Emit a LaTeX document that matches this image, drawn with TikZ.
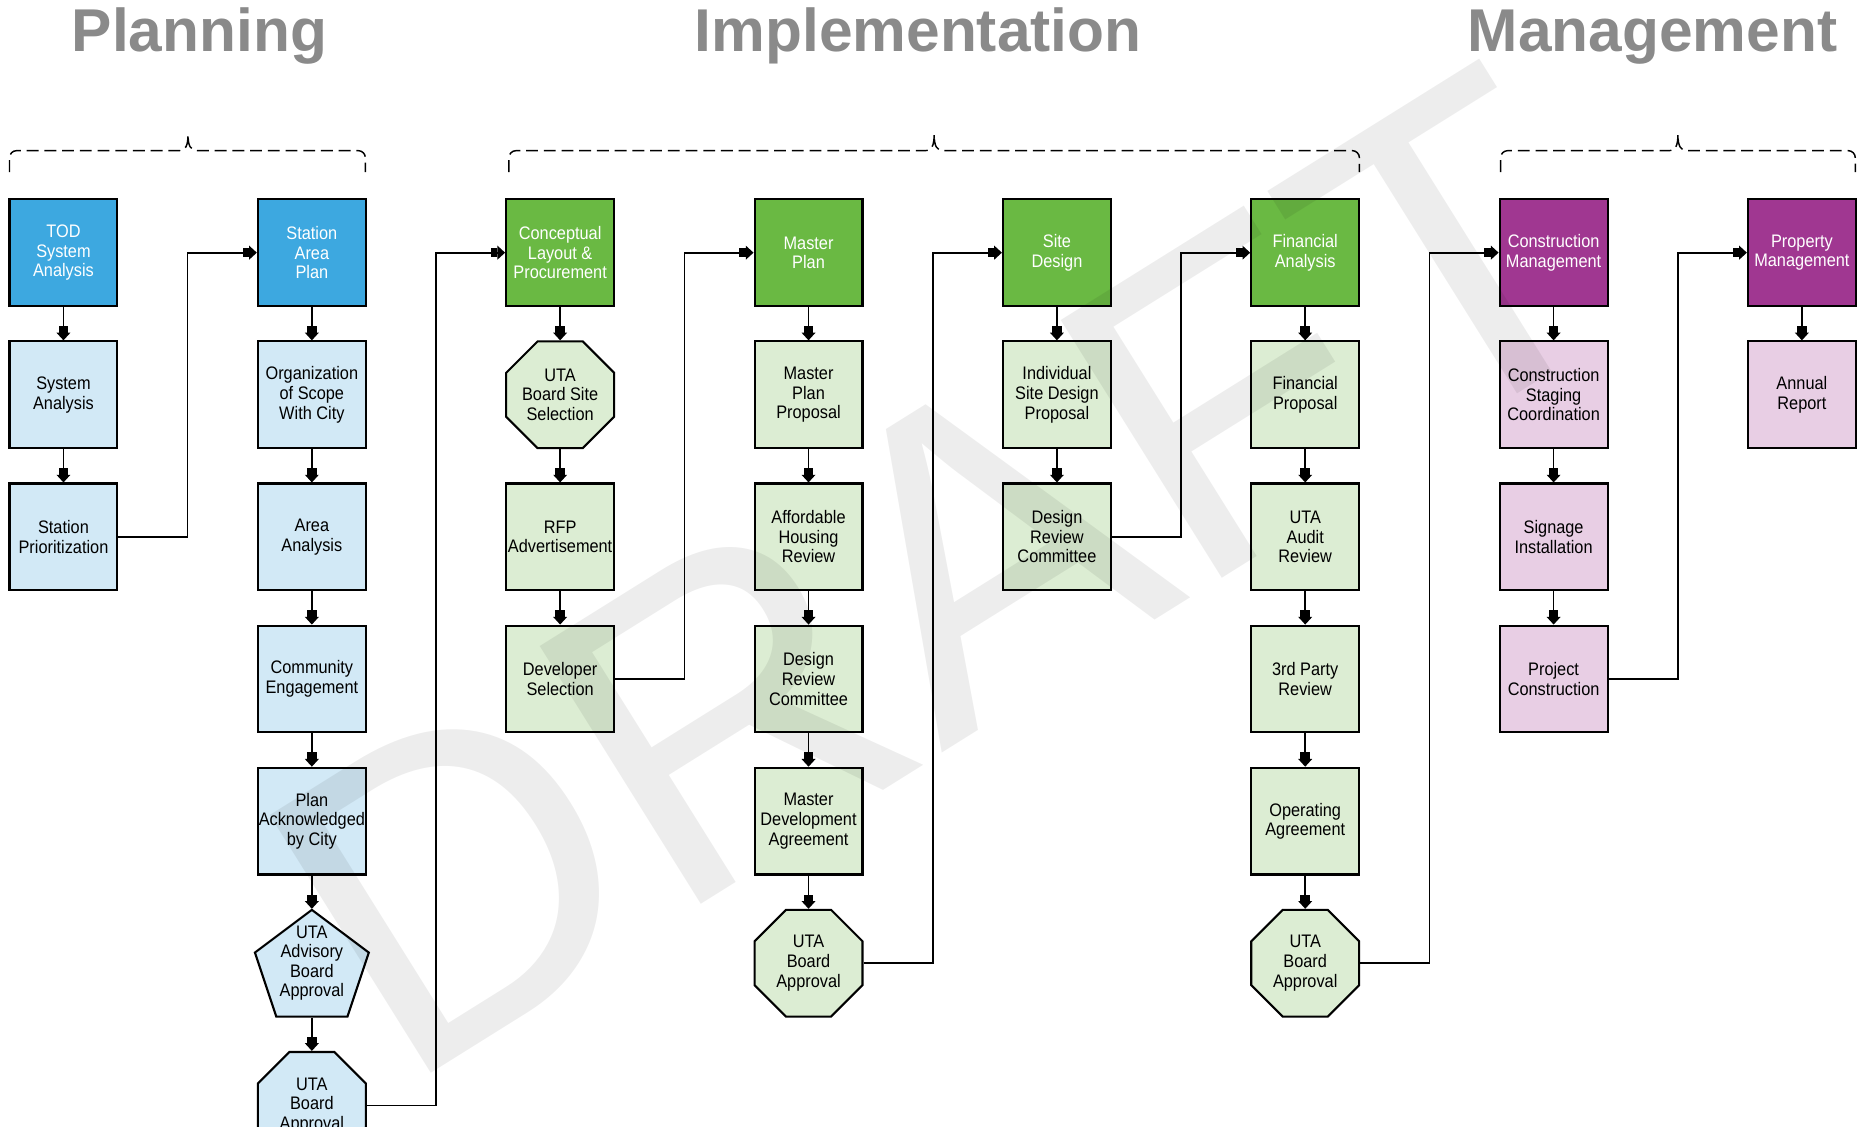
\documentclass[tikz,border=0pt]{standalone}
\usepackage{fontspec}
\setmainfont{Liberation Sans}
\newfontfamily\boxfont[FakeStretch=0.9]{Liberation Sans}
\usetikzlibrary{arrows.meta,calc,backgrounds}
\definecolor{bdark}{RGB}{61,168,224}
\definecolor{blight}{RGB}{210,233,246}
\definecolor{gdark}{RGB}{106,185,67}
\definecolor{glight}{RGB}{220,237,211}
\definecolor{pdark}{RGB}{160,55,145}
\definecolor{plight}{RGB}{232,206,228}
\definecolor{titlegray}{RGB}{138,138,138}
\newcommand\octagonbg[2]{%
  \begin{scope}[on background layer]
  \draw[line width=1pt, line join=miter, fill=#2]
    ($(#1.center)+(-19,45)$) -- ($(#1.center)+(19,45)$) -- ($(#1.center)+(45.5,18.5)$) --
    ($(#1.center)+(45.5,-18.5)$) -- ($(#1.center)+(19,-45)$) -- ($(#1.center)+(-19,-45)$) --
    ($(#1.center)+(-45.5,-18.5)$) -- ($(#1.center)+(-45.5,18.5)$) -- cycle;
  \end{scope}}
\newcommand\pentagonbg[2]{%
  \begin{scope}[on background layer]
  \draw[line width=1pt, line join=miter, fill=#2]
    ($(#1.center)+(0,45)$) -- ($(#1.center)+(48,9)$) -- ($(#1.center)+(30,-45)$) --
    ($(#1.center)+(-30,-45)$) -- ($(#1.center)+(-48,9)$) -- cycle;
  \end{scope}}
\newcommand\dashbrace[3]{%
  \draw[brc] (#1,-145) -- (#1,-133) to[out=90,in=180] (#1+6,-127) -- (#3-8,-127)
    .. controls (#3-2,-127) and (#3,-123) .. (#3,-113)
    .. controls (#3,-123) and (#3+2,-127) .. (#3+8,-127)
    -- (#2-6,-127) to[out=0,in=90] (#2,-133) -- (#2,-145);}
\begin{document}
\begin{tikzpicture}[x=0.02cm,y=0.02cm,
  bx/.style={draw=black, line width=1pt, minimum width=1.82cm, minimum height=1.8cm,
    inner sep=0pt, align=center, font=\boxfont\fontsize{8.7}{9.4}\selectfont},
  bdk/.style={bx, fill=bdark, text=white},
  blt/.style={bx, fill=blight},
  gdk/.style={bx, fill=gdark, text=white},
  glt/.style={bx, fill=glight},
  pdk/.style={bx, fill=pdark, text=white},
  plt/.style={bx, fill=plight},
  shp/.style={bx, draw=none},
  arr/.style={line width=0.8pt, -{Rectangle[length=1.1mm,width=1.6mm,sep=0pt]Triangle[length=1.3mm,width=2.3mm]}},
  brc/.style={line width=0.7pt, dash pattern=on 5.7pt off 2.8pt},
  ttl/.style={font=\bfseries\fontsize{29}{30}\selectfont, text=titlegray, inner sep=0pt, anchor=base}]
\useasboundingbox (0,0) rectangle (1568,-950);

% titles
\node[ttl] (tplan) at (168,-43) {Planning};
\node[ttl] (timpl) at (774,-43) {Implementation};
\node[ttl] (tman) at (1393,-43) {Management};

% braces
\dashbrace{8}{308}{158.5}
\dashbrace{429}{1146}{787.5}
\dashbrace{1265}{1564}{1414.5}

% column 1
\node[bdk] (tod) at (53.5,-213) {TOD\\System\\Analysis};
\node[blt] (sysan) at (53.5,-332.8) {System\\Analysis};
\node[blt] (stprio) at (53.5,-452.6) {Station\\Prioritization};
% column 2
\node[bdk] (sap) at (262.9,-213) {Station\\Area\\Plan};
\node[blt] (org) at (262.9,-332.8) {Organization\\of Scope\\With City};
\node[blt] (area) at (262.9,-452.6) {Area\\Analysis};
\node[blt] (comm) at (262.9,-572.4) {Community\\Engagement};
\node[blt] (plack) at (262.9,-692.2) {Plan\\Acknowledged\\by City};
\node[shp] (advis) at (262.9,-812) {UTA\\Advisory\\Board\\Approval};
\node[shp] (bap1) at (262.9,-931.8) {UTA\\Board\\Approval};
% column 3
\node[gdk] (clp) at (472.2,-213) {Conceptual\\Layout \&\\Procurement};
\node[shp] (bss) at (472.2,-332.8) {UTA\\Board Site\\Selection};
\node[glt] (rfp) at (472.2,-452.6) {RFP\\Advertisement};
\node[glt] (devsel) at (472.2,-572.4) {Developer\\Selection};
% column 4
\node[gdk] (mp) at (681.6,-213) {Master\\Plan};
\node[glt] (mpp) at (681.6,-332.8) {Master\\Plan\\Proposal};
\node[glt] (ahr) at (681.6,-452.6) {Affordable\\Housing\\Review};
\node[glt] (drca) at (681.6,-572.4) {Design\\Review\\Committee};
\node[glt] (mda) at (681.6,-692.2) {Master\\Development\\Agreement};
\node[shp] (bap2) at (681.6,-812) {UTA\\Board\\Approval};
% column 5
\node[gdk] (sd) at (891,-213) {Site\\Design};
\node[glt] (isdp) at (891,-332.8) {Individual\\Site Design\\Proposal};
\node[glt] (drcb) at (891,-452.6) {Design\\Review\\Committee};
% column 6
\node[gdk] (fa) at (1100.3,-213) {Financial\\Analysis};
\node[glt] (fp) at (1100.3,-332.8) {Financial\\Proposal};
\node[glt] (audit) at (1100.3,-452.6) {UTA\\Audit\\Review};
\node[glt] (third) at (1100.3,-572.4) {3rd Party\\Review};
\node[glt] (opag) at (1100.3,-692.2) {Operating\\Agreement};
\node[shp] (bap3) at (1100.3,-812) {UTA\\Board\\Approval};
% column 7
\node[pdk] (cm) at (1309.7,-213) {Construction\\Management};
\node[plt] (csc) at (1309.7,-332.8) {Construction\\Staging\\Coordination};
\node[plt] (sign) at (1309.7,-452.6) {Signage\\Installation};
\node[plt] (pc) at (1309.7,-572.4) {Project\\Construction};
% column 8
\node[pdk] (pm) at (1519,-213) {Property\\Management};
\node[plt] (ar) at (1519,-332.8) {Annual\\Report};

% special shapes
\pentagonbg{advis}{blight}
\octagonbg{bap1}{blight}
\octagonbg{bss}{glight}
\octagonbg{bap2}{glight}
\octagonbg{bap3}{glight}

% vertical connectors
\foreach \a/\b in {tod/sysan, sysan/stprio,
  sap/org, org/area, area/comm, comm/plack, plack/advis, advis/bap1,
  clp/bss, bss/rfp, rfp/devsel,
  mp/mpp, mpp/ahr, ahr/drca, drca/mda, mda/bap2,
  sd/isdp, isdp/drcb,
  fa/fp, fp/audit, audit/third, third/opag, opag/bap3,
  cm/csc, csc/sign, sign/pc,
  pm/ar}
  \draw[arr] (\a.south) -- (\b.north);

% elbow connectors
\foreach \a/\b in {stprio/sap, bap1/clp, devsel/mp, bap2/sd, drcb/fa, bap3/cm, pc/pm}
  \draw[arr] (\a.east) -| ($(\a.east)!0.5!(\b.west)$) |- (\b.west);

% watermark
\node[rotate=32, font=\fontsize{212}{212}\selectfont, text=black, text opacity=0.07, inner sep=0pt] (wm) at (796,-483) {DRAFT};
\end{tikzpicture}
\end{document}
